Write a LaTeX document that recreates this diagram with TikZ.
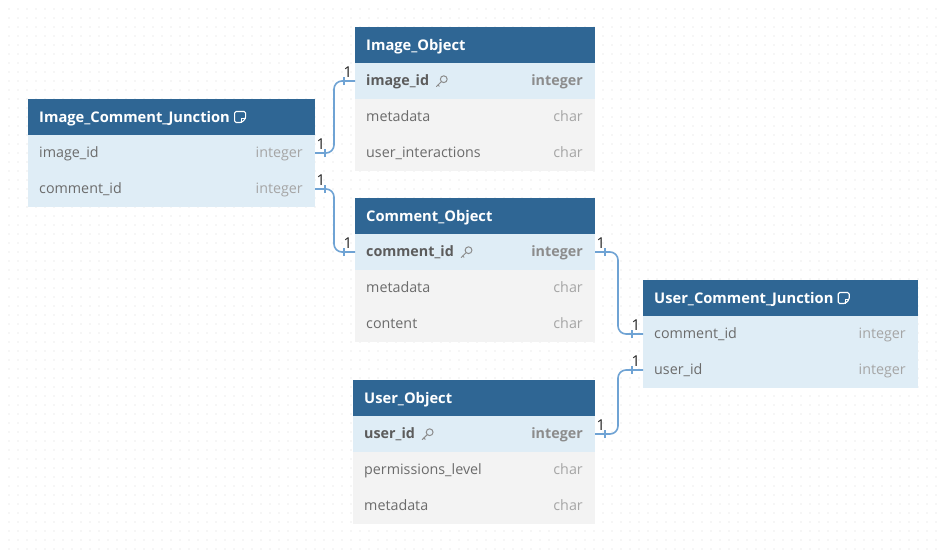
\documentclass[tikz,border=0pt]{standalone}
\usepackage{fontspec}
\setmainfont{Open Sans}
\usetikzlibrary{positioning}
\definecolor{hdrblue}{HTML}{2F6694}
\definecolor{rowblue}{HTML}{DFEDF6}
\definecolor{rowgrey}{HTML}{F3F3F3}
\definecolor{connblue}{HTML}{6FA3D4}
\definecolor{fieldgray}{HTML}{6B6B6B}
\definecolor{pkgray}{HTML}{5C5C5C}
\definecolor{typegray}{HTML}{A5A5A5}
\definecolor{pktype}{HTML}{8C8C8C}
\definecolor{dotgray}{HTML}{DADADA}
\definecolor{cardgray}{HTML}{222222}
\tikzset{
  hdr/.style={rectangle, fill=hdrblue, draw=none, inner sep=0pt, outer sep=0pt, minimum height=36pt},
  rowbox/.style={rectangle, draw=none, inner sep=0pt, outer sep=0pt, minimum height=36pt},
  hdrtext/.style={inner sep=0pt, text=white, font=\fontsize{14.7}{16}\selectfont\bfseries},
  fieldtext/.style={inner sep=0pt, text=fieldgray, font=\fontsize{14.3}{16}\selectfont},
  pktext/.style={inner sep=0pt, text=pkgray, font=\fontsize{14.3}{16}\selectfont\bfseries},
  typetext/.style={inner sep=0pt, text=typegray, font=\fontsize{14.3}{16}\selectfont},
  pktypetext/.style={inner sep=0pt, text=pktype, font=\fontsize{14.3}{16}\selectfont\bfseries},
  conn/.style={draw=connblue, line width=1.6pt, rounded corners=8pt},
  tickline/.style={draw=connblue, line width=1.4pt},
  card/.style={inner sep=0pt, text=cardgray, font=\fontsize{15}{16}\selectfont},
  keyic/.pic={
    \draw[pktype, line width=1pt] (8.5,-1.8) circle (3.4pt);
    \draw[pktype, line width=1pt, line cap=round] (6.1,0.6) -- (1.2,5.5);
    \draw[pktype, line width=1pt, line cap=round] (2.7,4.0) -- (4,5.3);
  },
  noteic/.pic={
    \draw[white, line width=1.1pt, rounded corners=1.5pt] (-5.5,5.5) -- (-5.5,-5.5) -- (5.5,-5.5) -- (5.5,1.5) -- (1.5,5.5) -- cycle;
    \draw[white, line width=1.1pt] (5.5,1.5) -- (1.5,1.5) -- (1.5,5.5);
  },
}
% #1 name, #2 x, #3 y, #4 width, #5 title
\newcommand\erhead[5]{%
  \node[hdr, minimum width=#4pt, anchor=north west] (#1-h) at (#2,#3) {};
  \node[hdrtext, anchor=base west] (#1-ht) at ([xshift=11pt,yshift=-5pt]#1-h.west) {#5};
}
% #1 name, #2 prev, #3 width, #4 fill, #5 field style, #6 field, #7 type style, #8 type
\newcommand\errow[8]{%
  \node[rowbox, fill=#4, minimum width=#3pt, anchor=north west] (#1) at (#2.south west) {};
  \node[#5, anchor=base west] (#1-f) at ([xshift=11pt,yshift=-4.8pt]#1.west) {#6};
  \node[#7, anchor=base east] (#1-t) at ([xshift=-12pt,yshift=-4.8pt]#1.east) {#8};
}
\begin{document}
\begin{tikzpicture}[x=1pt,y=-1pt]
\useasboundingbox (0,0) rectangle (945,552);
\fill[white] (0,0) rectangle (945,552);
\foreach \i in {9,18,...,936} {
  \foreach \j in {9,18,...,549} {
    \fill[dotgray] (\i,\j) circle (0.7pt);
  }
}
% Image_Comment_Junction
\erhead{ic}{28}{99}{287}{Image\_Comment\_Junction}
\pic at ([xshift=10pt]ic-ht.east |- ic-h.center) {noteic};
\errow{ic-1}{ic-h}{287}{rowblue}{fieldtext}{image\_id}{typetext}{integer}
\errow{ic-2}{ic-1}{287}{rowblue}{fieldtext}{comment\_id}{typetext}{integer}
% Image_Object
\erhead{io}{355}{27}{240}{Image\_Object}
\errow{io-1}{io-h}{240}{rowblue}{pktext}{image\_id}{pktypetext}{integer}
\errow{io-2}{io-1}{240}{rowgrey}{fieldtext}{metadata}{typetext}{char}
\errow{io-3}{io-2}{240}{rowgrey}{fieldtext}{user\_interactions}{typetext}{char}
\pic at ([xshift=6pt]io-1-f.east |- io-1.center) {keyic};
% Comment_Object
\erhead{co}{355}{198}{240}{Comment\_Object}
\errow{co-1}{co-h}{240}{rowblue}{pktext}{comment\_id}{pktypetext}{integer}
\errow{co-2}{co-1}{240}{rowgrey}{fieldtext}{metadata}{typetext}{char}
\errow{co-3}{co-2}{240}{rowgrey}{fieldtext}{content}{typetext}{char}
\pic at ([xshift=6pt]co-1-f.east |- co-1.center) {keyic};
% User_Comment_Junction
\erhead{uc}{643}{280}{275}{User\_Comment\_Junction}
\pic at ([xshift=10pt]uc-ht.east |- uc-h.center) {noteic};
\errow{uc-1}{uc-h}{275}{rowblue}{fieldtext}{comment\_id}{typetext}{integer}
\errow{uc-2}{uc-1}{275}{rowblue}{fieldtext}{user\_id}{typetext}{integer}
% User_Object
\erhead{uo}{353}{380}{242}{User\_Object}
\errow{uo-1}{uo-h}{242}{rowblue}{pktext}{user\_id}{pktypetext}{integer}
\errow{uo-2}{uo-1}{242}{rowgrey}{fieldtext}{permissions\_level}{typetext}{char}
\errow{uo-3}{uo-2}{242}{rowgrey}{fieldtext}{metadata}{typetext}{char}
\pic at ([xshift=6pt]uo-1-f.east |- uo-1.center) {keyic};
% connectors
\coordinate (kl) at (334,0);
\coordinate (kr) at (618,0);
\draw[conn] (ic-1.east) -- (ic-1.east -| kl) -- (kl |- io-1.west) -- (io-1.west);
\draw[conn] (ic-2.east) -- (ic-2.east -| kl) -- (kl |- co-1.west) -- (co-1.west);
\draw[conn] (co-1.east) -- (co-1.east -| kr) -- (kr |- uc-1.west) -- (uc-1.west);
\draw[conn] (uo-1.east) -- (uo-1.east -| kr) -- (kr |- uc-2.west) -- (uc-2.west);
% ticks
\foreach \a/\d in {ic-1.east/10, ic-2.east/10, co-1.east/10, uo-1.east/10, io-1.west/-11, co-1.west/-11, uc-1.west/-11, uc-2.west/-11} {
  \draw[tickline] ([xshift=\d pt,yshift=-4pt]\a) -- ([xshift=\d pt,yshift=4pt]\a);
}
% cardinality labels
\node[card, anchor=base] (l1) at ([xshift=6pt,yshift=3.5pt]ic-1.east) {1};
\node[card, anchor=base] (l2) at ([xshift=6pt,yshift=3.5pt]ic-2.east) {1};
\node[card, anchor=base] (l3) at ([xshift=-7pt,yshift=3.5pt]io-1.west) {1};
\node[card, anchor=base] (l4) at ([xshift=-7pt,yshift=3.5pt]co-1.west) {1};
\node[card, anchor=base] (l5) at ([xshift=6pt,yshift=3.5pt]co-1.east) {1};
\node[card, anchor=base] (l6) at ([xshift=6pt,yshift=3.5pt]uo-1.east) {1};
\node[card, anchor=base] (l7) at ([xshift=-7pt,yshift=3.5pt]uc-1.west) {1};
\node[card, anchor=base] (l8) at ([xshift=-7pt,yshift=3.5pt]uc-2.west) {1};
\end{tikzpicture}
\end{document}
